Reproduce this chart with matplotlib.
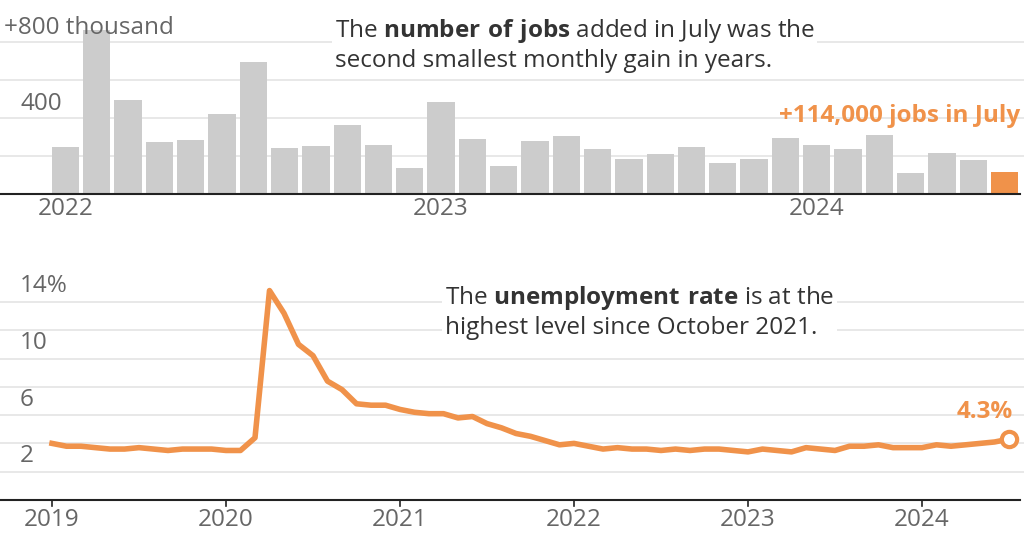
import numpy as np
import matplotlib.pyplot as plt

plt.rcParams['font.family'] = ['Open Sans', 'DejaVu Sans']
plt.rcParams['mathtext.fontset'] = 'custom'
plt.rcParams['mathtext.rm'] = 'Open Sans'
plt.rcParams['mathtext.bf'] = 'Open Sans:bold'

# monthly job gains, thousands, Jan 2022 - Jul 2024
jobs = [247, 863, 495, 274, 284, 421, 695, 242, 253, 363, 258, 137,
        484, 289, 147, 279, 305, 237, 184, 210, 247, 163, 184, 295,
        258, 237, 310, 110, 216, 179, 114]
job_years = ['2022', '2023', '2024']

# unemployment rate, Jan 2019 - Jul 2024
unemp = [4.0, 3.8, 3.8, 3.7, 3.6, 3.6, 3.7, 3.6, 3.5, 3.6, 3.6, 3.6,
         3.5, 3.5, 4.4, 14.8, 13.2, 11.0, 10.2, 8.4, 7.8, 6.8, 6.7, 6.7,
         6.4, 6.2, 6.1, 6.1, 5.8, 5.9, 5.4, 5.1, 4.7, 4.5, 4.2, 3.9,
         4.0, 3.8, 3.6, 3.7, 3.6, 3.6, 3.5, 3.6, 3.5, 3.6, 3.6, 3.5,
         3.4, 3.6, 3.5, 3.4, 3.7, 3.6, 3.5, 3.8, 3.8, 3.9, 3.7, 3.7,
         3.7, 3.9, 3.8, 3.9, 4.0, 4.1, 4.3]
un_years = ['2019', '2020', '2021', '2022', '2023', '2024']

orange = '#f0924a'
grey = '#666666'
grid = '#e6e6e6'
fs = 17.5

fig = plt.figure(figsize=(10.24, 5.35), dpi=100)

# --- top: jobs bars ---
ax = fig.add_axes([0, 1 - 194 / 535, 1, 194 / 535])
sp = 31.3
ax.set_xlim(-65.5 / sp, (1024 - 65.5) / sp)
ax.set_ylim(0, 194 / 0.19)
for v in [200, 400, 600, 800]:
    ax.axhline(v, color=grid, lw=1.3, zorder=0)
x = np.arange(len(jobs))
cols = ['#cccccc'] * (len(jobs) - 1) + [orange]
ax.bar(x, jobs, width=0.87, color=cols, zorder=2)
ax.plot([-65.5 / sp, (1020 - 65.5) / sp], [0, 0], color='#222222', lw=1.5, zorder=3, clip_on=False)
for i, yr in enumerate(job_years):
    ax.text(i * 12, -18, yr, ha='center', va='top', fontsize=fs, color=grey)
ax.text(-62 / sp, 810, '+800 thousand', fontsize=fs, color=grey, va='bottom')
ax.text(-45 / sp, 410, '400', fontsize=fs, color=grey, va='bottom')
ax.text(8.6, 784, "The $\\bf{number\\ of\\ jobs}$ added in July was the\nsecond smallest monthly gain in years.",
        fontsize=fs, color='#333333', va='center', linespacing=1.2,
        bbox=dict(fc='white', ec='none', pad=2))
ax.text(30.5, 410, '+114,000 jobs in July', fontsize=fs, color=orange,
        fontweight='bold', ha='right', va='center')
ax.axis('off')

# --- bottom: unemployment line ---
bx = fig.add_axes([0, 35 / 535, 1, 250 / 535])
ms = 14.5
bx.set_xlim(-52 / ms, (1024 - 52) / ms)
bx.set_ylim(0, 250 / 14.15)
for v in range(2, 15, 2):
    bx.axhline(v, color=grid, lw=1.3, zorder=0)
m = np.arange(len(unemp))
bx.plot(m, unemp, color=orange, lw=4, solid_joinstyle='round', zorder=3)
bx.plot(m[-1], unemp[-1], 'o', ms=11, mfc='white', mec=orange, mew=3, zorder=4)
bx.text(m[-1] + 0.3, 5.4, '4.3%', fontsize=fs, color=orange, fontweight='bold', ha='right', va='bottom')
bx.plot([-52 / ms, (1020 - 52) / ms], [0, 0], color='#222222', lw=1.5, zorder=3, clip_on=False)
for i, yr in enumerate(un_years):
    bx.plot([i * 12, i * 12], [0, -0.4], color='#222222', lw=1.2, clip_on=False)
    bx.text(i * 12, -0.6, yr, ha='center', va='top', fontsize=fs, color=grey)
for v, lab in [(2, '2'), (6, '6'), (10, '10'), (14, '14%')]:
    bx.text(-32 / ms, v + 0.25, lab, fontsize=fs, color=grey, va='bottom')
bx.text(27.1, 13.3, "The $\\bf{unemployment\\ rate}$ is at the\nhighest level since October 2021.",
        fontsize=fs, color='#333333', va='center', linespacing=1.2,
        bbox=dict(fc='white', ec='none', pad=2))
bx.axis('off')

fig.savefig('out.png', dpi=100)
